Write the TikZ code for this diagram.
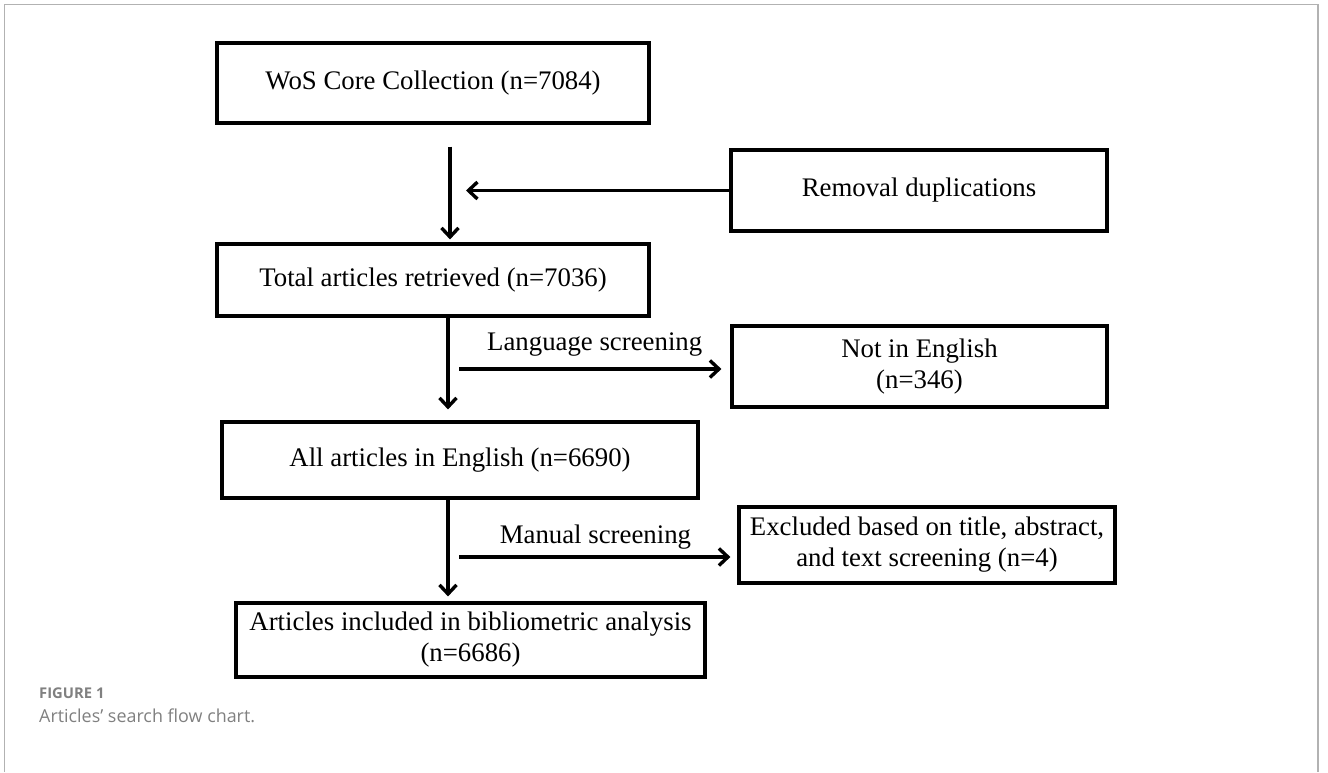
\documentclass[tikz,border=0pt]{standalone}
\usepackage{fontspec}
\setmainfont{Liberation Serif}
\newfontfamily\capfont[Ligatures=NoCommon]{Open Sans}
\usetikzlibrary{positioning, arrows.meta, calc}

\begin{document}
\begin{tikzpicture}[
    x=1pt, y=-1pt,
    >={Straight Barb[length=9pt, width=17pt, line width=3.4pt]},
    font=\fontsize{26.8pt}{31pt}\selectfont,
    box/.style={
        draw, line width=3.2pt, inner sep=0pt,
        align=center,
    },
    flow/.style={->, line width=3.2pt},
    screen/.style={inner sep=0pt},
    frame/.style={draw=black!30, line width=1.6pt},
    caption/.style={anchor=base west, inner sep=0pt, text=black!50},
]

\useasboundingbox (0,0) rectangle (1328,772);

% outer frame
\draw[frame] (4.5,772) -- (4.5,4.5) -- (1318,4.5) -- (1318,772);

% arrow axes
\def\axA{450}   % first down arrow
\def\axB{448}   % lower down arrows
\coordinate (a1) at (\axA,0);
\coordinate (a2) at (\axB,0);

% boxes
\node[box, minimum width=432pt, minimum height=80pt] (wos)     at (433,83)      {WoS Core Collection (n=7084)};
\node[box, minimum width=376pt, minimum height=81pt] (dup)     at (919,190.5)   {Removal duplications};
\node[box, minimum width=432pt, minimum height=72pt] (total)   at (433,280)     {Total articles retrieved (n=7036)};
\node[box, minimum width=375pt, minimum height=81pt] (noeng)   at (919.5,366.5) {Not in English\\(n=346)};
\node[box, minimum width=476pt, minimum height=76pt] (english) at (460,460)     {All articles in English (n=6690)};
\node[box, minimum width=376pt, minimum height=76pt] (excl)    at (927,545)     {Excluded based on title, abstract,\\and text screening (n=4)};
\node[box, minimum width=469pt, minimum height=74pt] (incl)    at (470.5,640)   {Articles included in bibliometric analysis\\(n=6686)};

% --- main flow ---
\draw[flow, shorten <=22pt, shorten >=3pt] (wos.south -| a1) -- (total.north -| a1);
\draw[flow, shorten >=16pt] (dup.west) -- (dup.west -| a1);
\draw[flow, shorten >=11pt] (total.south -| a2) -- (english.north -| a2);
\draw[flow, shorten >=5pt] (english.south -| a2) -- (incl.north -| a2);

% --- screening branches ---
\coordinate (l1) at (459,369);
\draw[flow, shorten >=9pt] (l1) -- node[screen, above=11pt] {Language screening} (l1 -| noeng.west);
\coordinate (m1) at (459,557);
\draw[flow, shorten >=7pt] (m1) -- node[screen, above=6pt, pos=0.49] {Manual screening} (m1 -| excl.west);

% caption
\node[caption, font={\capfont\bfseries\fontsize{14.8pt}{18pt}\selectfont}] (fig) at (39,698) {FIGURE 1};
\node[caption, font={\capfont\fontsize{17.9pt}{21pt}\selectfont}] (cap) at (39,722) {Articles’ search flow chart.};

\end{tikzpicture}
\end{document}
